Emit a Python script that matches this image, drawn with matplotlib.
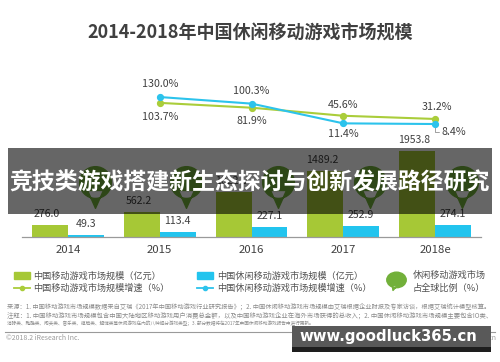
import matplotlib
matplotlib.use("Agg")
import matplotlib.pyplot as plt
from matplotlib.patches import Rectangle
from matplotlib.path import Path
from matplotlib.lines import Line2D
import matplotlib.transforms as mtransforms
import numpy as np

plt.rcParams['font.family'] = ['Noto Sans CJK SC', 'DejaVu Sans']

# ---------------- data ----------------
years = ["2014", "2015", "2016", "2017", "2018e"]
mobile_size = [276.0, 562.2, 1022.6, 1489.2, 1953.8]   # 2016 label hidden by banner (estimated)
casual_size = [49.3, 113.4, 227.1, 252.9, 274.1]
growth_years_idx = [1, 2, 3, 4]
mobile_growth = [103.7, 81.9, 45.6, 31.2]
casual_growth = [130.0, 100.3, 11.4, 8.4]

title = "2014-2018年中国休闲移动游戏市场规模"
banner = "竞技类游戏搭建新生态探讨与创新发展路径研究"
legend_labels = ["中国移动游戏市场规模（亿元）", "中国休闲移动游戏市场规模（亿元）",
                 "中国移动游戏市场规模增速（%）", "中国休闲移动游戏市场规模增速（%）",
                 "休闲移动游戏市场\n占全球比例（%）"]
notes = [
    "来源：1. 中国移动游戏市场规模数据来自艾瑞《2017年中国移动游戏行业研究报告》；2. 中国休闲移动游戏市场规模由艾瑞根据企业财报及专家访谈，根据艾瑞统计模型核算。",
    "注释：1. 中国移动游戏市场规模包含中国大陆地区移动游戏用户消费总金额，以及中国移动游戏企业在海外市场获得的总收入；2. 中国休闲移动游戏市场规模主要包含IO类、",
    "消除类、跑酷类、闯关类、音乐类、棋牌类、解谜类等休闲游戏在内的八种细分游戏类型；3. 部分数据将在2017年中国休闲移动游戏报告中进行更新。",
]

GREEN = "#a6c836"
BLUE = "#22c4ee"
LGREEN = "#aacd3a"
LBLUE = "#2cc3ec"
BUBBLE = "#72b03a"
TXT = "#404040"

W, H = 500, 362
fig = plt.figure(figsize=(W / 100, H / 100), dpi=100)
fig.patch.set_facecolor("white")

def fx(px):
    return px / W

def fy(py):
    return 1 - py / H

ax = fig.add_axes([fx(22), fy(237), 459 / W, 177 / H])
ax.set_xlim(-0.5, 4.5)
ax.set_ylim(0, 4021)
x = np.arange(len(years))
bw = 0.39
ax.bar(x - bw / 2, mobile_size, bw, color=GREEN, zorder=2)
ax.bar(x + bw / 2, casual_size, bw, color=BLUE, zorder=2)
for xi, v in zip(x, mobile_size):
    ax.annotate(f"{v:.1f}", (xi - bw / 2, v), xytext=(-2, 8), textcoords="offset points",
                ha="center", va="center", fontsize=7.6, color=TXT)
for xi, v in zip(x, casual_size):
    ax.annotate(f"{v:.1f}", (xi + bw / 2, v), xytext=(0, 8), textcoords="offset points",
                ha="center", va="center", fontsize=7.6, color=TXT)
for s in ["top", "right", "left"]:
    ax.spines[s].set_visible(False)
ax.spines["bottom"].set_color("#9a9a9a")
ax.spines["bottom"].set_linewidth(0.9)
ax.set_yticks([])
ax.set_xticks(x)
ax.set_xticklabels(years, fontsize=8.2, color=TXT)
ax.tick_params(axis="x", length=0, pad=6)
ax.patch.set_alpha(0)

# speech bubble marker
circ = Path.circle((0, 5), 16)
tri = Path([(-8, -3), (8, -3), (0, -21), (-8, -3)],
           [Path.MOVETO, Path.LINETO, Path.LINETO, Path.CLOSEPOLY])
bubble = Path.make_compound_path(circ, tri)
btrans = mtransforms.blended_transform_factory(ax.transData, ax.transAxes)
ax.plot(x + 0.29, [(237 - 187) / 177] * len(x), linestyle="none", marker=bubble,
        markersize=30, color=BUBBLE, transform=btrans, zorder=3)

# legend bubble: wide ellipse with small tip
ell = Path.unit_circle()
ell = Path(ell.vertices * [1.25, 1.0] + [0, 0.2], ell.codes)
tip = Path([(-0.55, -0.5), (0.05, -0.6), (-0.45, -1.15), (-0.55, -0.5)],
           [Path.MOVETO, Path.LINETO, Path.LINETO, Path.CLOSEPOLY])
lbubble = Path.make_compound_path(ell, tip)

# growth lines
ax2 = ax.twinx()
ax2.set_ylim(-500.5, 296.8)
ax2.axis("off")
ax2.plot(growth_years_idx, mobile_growth, color=LGREEN, lw=1.5, marker="o", ms=4.2, zorder=3)
ax2.plot(growth_years_idx, casual_growth, color=LBLUE, lw=1.5, marker="o", ms=4.2, zorder=4)
g_off = [(0, -10), (0, -9.5), (0, 7.5), (1.5, 8.8)]
c_off = [(0, 9.4), (0, 9.4), (0, -8), (0, 0)]
for xi, v, o in zip(growth_years_idx, mobile_growth, g_off):
    ax2.annotate(f"{v:.1f}%", (xi, v), xytext=o, textcoords="offset points",
                 ha="center", va="center", fontsize=7.7, color=TXT)
for xi, v, o in zip(growth_years_idx, casual_growth, c_off):
    if xi == 4:
        ax2.annotate(f"{v:.1f}%", (xi, v), xytext=(4.5, -5.6), textcoords="offset points",
                     ha="left", va="center", fontsize=7.7, color=TXT,
                     arrowprops=dict(arrowstyle="-", color="#909090", lw=0.6,
                                     connectionstyle="angle,angleA=0,angleB=90,rad=0",
                                     shrinkA=0, shrinkB=2))
    else:
        ax2.annotate(f"{v:.1f}%", (xi, v), xytext=o, textcoords="offset points",
                     ha="center", va="center", fontsize=7.7, color=TXT)

# title
fig.text(0.5, fy(33), title, ha="center", va="center", fontsize=13, fontweight="bold", color=TXT)

# legend (manual)
fig.add_artist(Rectangle((fx(14), fy(279)), 16 / W, 7 / H, color=GREEN, transform=fig.transFigure))
fig.add_artist(Rectangle((fx(197), fy(279)), 16 / W, 7 / H, color=BLUE, transform=fig.transFigure))
fig.add_artist(Line2D([fx(14), fx(30)], [fy(288), fy(288)], color=LGREEN, lw=1.3, transform=fig.transFigure))
fig.add_artist(Line2D([fx(22)], [fy(288)], color=LGREEN, marker="o", ms=3, transform=fig.transFigure))
fig.add_artist(Line2D([fx(197), fx(213)], [fy(288), fy(288)], color=LBLUE, lw=1.3, transform=fig.transFigure))
fig.add_artist(Line2D([fx(205)], [fy(288)], color=LBLUE, marker="o", ms=3, transform=fig.transFigure))
fig.add_artist(Line2D([fx(396)], [fy(281)], color=BUBBLE, marker=lbubble, ms=14, transform=fig.transFigure))
LFS = 6.6
LC = "#505050"
fig.text(fx(33), fy(276), legend_labels[0], ha="left", va="center", fontsize=LFS, color=LC)
fig.text(fx(217), fy(276), legend_labels[1], ha="left", va="center", fontsize=LFS, color=LC)
fig.text(fx(33), fy(288.5), legend_labels[2], ha="left", va="center", fontsize=LFS, color=LC)
fig.text(fx(217), fy(288.5), legend_labels[3], ha="left", va="center", fontsize=LFS, color=LC)
fig.text(fx(413), fy(282), legend_labels[4], ha="left", va="center", fontsize=LFS, color=LC,
         linespacing=1.5)

# footnotes, fitted to width
renderer = fig.canvas.get_renderer()
targets = [483, 483, 310]
for yy, t, tw in zip([308, 315.5, 323], notes, targets):
    tx = fig.text(fx(7), fy(yy), t, ha="left", va="center", fontsize=4.5, color="#8a8a8a")
    w = tx.get_window_extent(renderer).width
    tx.set_fontsize(4.5 * tw / w)
fig.add_artist(Line2D([fx(5), fx(495)], [fy(332), fy(332)], color="#9a9a9a", lw=0.8, transform=fig.transFigure))
fig.text(fx(6), fy(338.5), "©2018.2 iResearch Inc.", ha="left", va="center", fontsize=5, color="#9a9a9a")
fig.text(fx(496), fy(338.5), "m.cn", ha="right", va="center", fontsize=5, color="#9a9a9a")

# overlay banner
fig.add_artist(Rectangle((fx(8), fy(214)), 484 / W, 66 / H, facecolor="black", alpha=0.6,
                         edgecolor="none", transform=fig.transFigure, zorder=10))
fig.text(fx(249), fy(183), banner, ha="center", va="center", fontsize=16.5, fontweight="bold",
         color="white", zorder=11)

# URL box
fig.add_artist(Rectangle((fx(292), fy(347)), 199 / W, 21 / H, facecolor="#595959",
                         edgecolor="none", transform=fig.transFigure, zorder=10))
fig.add_artist(Rectangle((fx(292), fy(352)), 199 / W, 5 / H, facecolor="#1e1e1e",
                         edgecolor="none", transform=fig.transFigure, zorder=10))
fig.text(fx(388), fy(337), "www.goodluck365.cn", ha="center", va="center", fontsize=10.7,
         fontweight="bold", color="white", family="DejaVu Sans", zorder=11)

fig.savefig("out.png", dpi=100, facecolor="white")
